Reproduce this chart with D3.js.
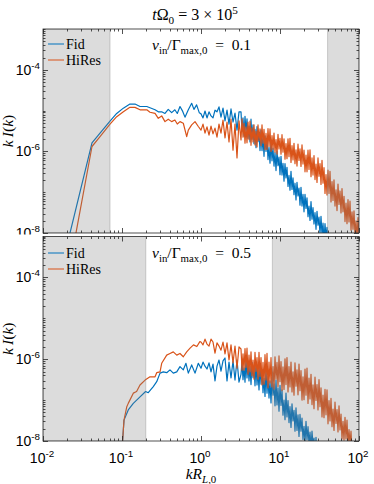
<!DOCTYPE html>
<html>
<head>
<meta charset="utf-8">
<script src="https://cdn.jsdelivr.net/npm/d3@7"></script>
<style>
  body { margin: 0; background: #fff; }
</style>
</head>
<body>
<svg id="chart" width="374" height="484"></svg>
<script>
// ---- data: [k, log10(k I)] ----
// smooth low-k part of each spectrum
let fidTopLow = [[0.019,-8.50],[0.0417,-5.79],[0.0527,-5.55],[0.0705,-5.26],[0.0857,-5.07],[0.104,-4.94],
  [0.126,-4.84],[0.146,-4.84],[0.169,-4.90],[0.206,-4.90],[0.226,-4.93],[0.262,-4.98],[0.288,-5.03],
  [0.318,-5.03],[0.350,-5.07],[0.385,-4.97],[0.425,-5.05],[0.467,-4.98],[0.501,-5.07],[0.542,-4.90],
  [0.587,-5.02],[0.627,-5.16],[0.691,-4.98],[0.762,-4.82],[0.814,-4.97],[0.880,-4.86],[0.950,-5.05]];
let hiresTopLow = [[0.019,-9.45],[0.0417,-5.88],[0.0527,-5.64],[0.0705,-5.33],[0.0857,-5.15],[0.104,-5.03],
  [0.126,-4.92],[0.146,-4.92],[0.169,-4.98],[0.206,-4.98],[0.226,-5.04],[0.262,-5.07],[0.288,-5.19],
  [0.318,-5.13],[0.350,-5.27],[0.385,-5.21],[0.425,-5.27],[0.467,-5.23],[0.501,-5.33],[0.542,-5.27],
  [0.597,-5.31],[0.659,-5.64],[0.691,-5.48],[0.762,-5.35],[0.840,-5.27],[0.925,-5.39]];
let fidBotLow = [[0.0985,-8.40],[0.106,-7.49],[0.120,-7.24],[0.139,-7.08],[0.169,-6.92],[0.199,-6.79],
  [0.215,-6.82],[0.249,-6.67],[0.275,-6.55],[0.303,-6.34],[0.333,-6.31],[0.368,-6.33],[0.405,-6.26],
  [0.446,-6.34],[0.493,-6.31],[0.542,-6.18],[0.597,-6.26],[0.645,-6.10],[0.691,-6.34],[0.762,-6.14],
  [0.840,-6.34],[0.925,-6.10]];
let hiresBotLow = [[0.0985,-8.40],[0.106,-7.49],[0.115,-7.16],[0.120,-7.08],[0.139,-6.83],[0.153,-6.79],
  [0.169,-6.63],[0.196,-6.51],[0.226,-6.43],[0.262,-6.43],[0.275,-6.33],[0.303,-6.31],[0.318,-6.10],
  [0.368,-5.90],[0.405,-5.86],[0.446,-5.82],[0.493,-5.90],[0.542,-5.86],[0.597,-5.94],[0.659,-5.82],
  [0.727,-5.73],[0.803,-5.65],[0.886,-5.69],[0.967,-5.57]];

// noisy high-k part, sampled on this k grid
let kHigh = [1.000,1.060,1.124,1.191,1.263,1.339,1.419,1.504,1.594,1.690,
  1.791,1.899,2.013,2.134,2.262,2.398,2.542,2.694,2.856,3.027,
  3.209,3.304,3.402,3.503,3.606,3.713,3.822,3.935,4.052,4.172,
  4.295,4.422,4.553,4.687,4.826,4.969,5.116,5.267,5.423,5.583,
  5.748,5.918,6.093,6.274,6.459,6.650,6.847,7.049,7.258,7.472,
  7.693,7.921,8.155,8.396,8.645,8.900,9.163,9.434,9.713,10.00,
  10.30,10.60,10.91,11.24,11.57,11.91,12.26,12.63,13.00,13.38,
  13.78,14.19,14.61,15.04,15.48,15.94,16.41,16.90,17.40,17.91,
  18.44,18.99,19.55,20.13,20.73,21.34,21.97,22.62,23.29,23.98,
  24.69,25.42,26.17,26.94,27.74,28.56,29.41,30.27,31.17,32.09,
  33.04,34.02,35.03,36.06,37.13,38.23,39.36,40.52,41.72,42.95,
  44.22,45.53,46.88,48.26,49.69,51.16,52.67,54.23,55.84,57.49,
  59.19,60.93,62.74,64.59,66.51,68.47,70.50,72.58,74.73,76.93,
  79.21,81.55,83.97,86.45,89.01,91.64,94.35,97.14,100.0];
let fidTopHigh = [-5.08,-5.18,-5.01,-5.18,-5.03,-5.13,-5.18,-4.99,-5.03,-4.91,
  -5.16,-4.94,-5.25,-4.99,-5.33,-4.96,-5.28,-5.06,-5.48,-5.03,
  -5.03,-5.51,-5.18,-5.63,-5.14,-5.51,-5.20,-5.68,-5.38,-5.77,
  -5.21,-5.70,-5.35,-5.81,-5.46,-5.91,-5.39,-5.76,-5.53,-5.98,
  -5.47,-5.98,-5.64,-6.12,-5.62,-6.00,-5.70,-6.20,-5.90,-6.29,
  -5.77,-6.23,-5.92,-6.36,-6.03,-6.47,-5.99,-6.35,-6.14,-6.57,
  -6.12,-6.58,-6.29,-6.73,-6.30,-6.65,-6.39,-6.86,-6.59,-6.95,
  -6.49,-6.93,-6.65,-7.06,-6.78,-7.19,-6.76,-7.09,-6.90,-7.32,
  -6.88,-7.34,-7.05,-7.48,-7.05,-7.40,-7.14,-7.60,-7.34,-7.69,
  -7.23,-7.66,-7.38,-7.78,-7.50,-7.91,-7.47,-7.81,-7.61,-8.03,
  -7.59,-8.05,-7.76,-8.20,-7.77,-8.12,-7.86,-8.33,-8.06,-8.42];
let hiresTopHigh = [-5.48,-5.33,-5.55,-5.40,-5.60,-5.38,-5.57,-5.43,-5.65,-5.33,
  -5.55,-5.23,-5.67,-5.28,-5.77,-5.21,-5.97,-5.33,-6.16,-5.25,
  -5.72,-5.20,-5.65,-5.31,-5.80,-5.40,-5.79,-5.28,-5.71,-5.26,
  -5.85,-5.42,-5.77,-5.35,-5.84,-5.50,-5.89,-5.35,-5.73,-5.45,
  -5.86,-5.35,-5.80,-5.46,-5.96,-5.56,-5.95,-5.44,-5.88,-5.45,
  -6.00,-5.61,-5.95,-5.55,-6.02,-5.71,-6.07,-5.58,-5.94,-5.68,
  -6.07,-5.59,-6.02,-5.69,-6.19,-5.81,-6.18,-5.69,-6.13,-5.68,
  -6.27,-5.86,-6.21,-5.80,-6.30,-5.96,-6.36,-5.82,-6.22,-5.94,
  -6.37,-5.84,-6.31,-5.97,-6.50,-6.09,-6.50,-5.97,-6.44,-5.96,
  -6.62,-6.16,-6.58,-6.10,-6.69,-6.31,-6.76,-6.16,-6.61,-6.30,
  -6.81,-6.22,-6.78,-6.40,-7.03,-6.57,-7.07,-6.46,-7.03,-6.49,
  -7.24,-6.74,-7.20,-6.70,-7.34,-6.94,-7.45,-6.80,-7.30,-6.97,
  -7.51,-6.91,-7.48,-7.10,-7.72,-7.27,-7.77,-7.18,-7.73,-7.22,
  -7.93,-7.48,-7.91,-7.46,-8.05,-7.70,-8.15,-7.62,-8.05];
let fidBotHigh = [-6.22,-6.07,-6.17,-6.24,-6.09,-6.31,-6.12,-6.53,-6.17,-6.02,
  -6.29,-6.04,-5.97,-6.53,-6.07,-6.46,-6.04,-6.51,-6.02,-6.56,
  -6.37,-6.07,-6.50,-6.21,-6.56,-6.02,-6.46,-6.11,-6.53,-6.17,
  -6.62,-6.08,-6.45,-6.20,-6.65,-6.10,-6.63,-6.26,-6.75,-6.17,
  -6.61,-6.25,-6.82,-6.46,-6.91,-6.27,-6.83,-6.42,-6.95,-6.53,
  -7.07,-6.44,-6.88,-6.60,-7.14,-6.51,-7.12,-6.70,-7.27,-6.64,
  -7.13,-6.75,-7.37,-7.00,-7.48,-6.83,-7.41,-7.01,-7.55,-7.16,
  -7.67,-7.09,-7.51,-7.25,-7.76,-7.19,-7.74,-7.36,-7.89,-7.35,
  -7.76,-7.44,-7.96,-7.64,-8.03,-7.52,-7.97,-7.65,-8.08,-7.78,
  -8.18,-7.76,-8.10,-7.93,-8.33,-7.91,-8.36,-8.09,-8.51];
let hiresBotHigh = [-5.58,-5.65,-5.51,-5.63,-5.68,-5.51,-5.58,-5.85,-5.60,-5.68,
  -5.78,-5.58,-5.87,-5.60,-6.02,-5.65,-6.09,-5.68,-6.22,-5.70,
  -5.75,-6.27,-5.87,-6.27,-5.74,-6.20,-5.73,-6.37,-5.90,-6.31,
  -5.82,-6.41,-6.02,-6.49,-5.83,-6.30,-5.96,-6.49,-5.83,-6.42,
  -5.96,-6.63,-6.08,-6.61,-5.89,-6.51,-5.86,-6.70,-6.07,-6.58,
  -5.96,-6.68,-6.18,-6.73,-5.94,-6.49,-6.08,-6.67,-5.92,-6.55,
  -6.06,-6.77,-6.19,-6.74,-5.99,-6.62,-5.96,-6.80,-6.18,-6.68,
  -6.07,-6.80,-6.31,-6.88,-6.09,-6.66,-6.26,-6.87,-6.12,-6.77,
  -6.28,-7.00,-6.43,-6.99,-6.24,-6.88,-6.22,-7.08,-6.46,-6.97,
  -6.37,-7.11,-6.63,-7.21,-6.44,-7.01,-6.62,-7.24,-6.50,-7.16,
  -6.70,-7.41,-6.88,-7.43,-6.74,-7.36,-6.75,-7.58,-7.01,-7.51,
  -6.96,-7.65,-7.22,-7.74,-7.05,-7.57,-7.23,-7.78,-7.14,-7.73,
  -7.34,-7.95,-7.52,-7.98,-7.42,-7.95,-7.49,-8.11,-7.72,-8.08,
  -7.76,-8.25,-8.01,-8.45];

// grey bands: unresolved k ranges
let shadeTop = [0.0705, 40];
let shadeBot = [0.2, 8];
let nuValues = ['0.1', '0.5'];
let seriesNames = ['Fid', 'HiRes'];
let xTicks = [0.01, 0.1, 1, 10, 100];
let yTickExp = [-8, -6, -4];

// ---- layout ----
let color = ['#0072BD', '#D95319'],
    serif = '"Times New Roman", "Liberation Serif", "DejaVu Serif", serif',
    sans = '"Liberation Sans", Arial, sans-serif',
    svg = d3.select('#chart'),
    x = d3.scaleLog().domain([0.01, 100]).range([43, 359]);

let join = (low, high) => low.concat(high.map((v, i) => [kHigh[i], v]));

let panels = [
  {top: 29, bottom: 233, fid: join(fidTopLow, fidTopHigh), hires: join(hiresTopLow, hiresTopHigh),
   shade: shadeTop, nu: nuValues[0], legendY: [44, 60]},
  {top: 236.5, bottom: 441, fid: join(fidBotLow, fidBotHigh), hires: join(hiresBotLow, hiresBotHigh),
   shade: shadeBot, nu: nuValues[1], legendY: [253, 269]}
];

// rich text helper: parts = [text, style], style: i (italic), sub, sup
let rich = (sel, parts, base) => {
  let shift = 0;
  parts.forEach(p => {
    let st = p[1] || {},
        s = st.sub ? 4 : st.sup ? -6 : 0,
        t = sel.append('tspan').text(p[0]);
    if (s !== shift) { t.attr('dy', s - shift); shift = s; }
    if (st.i) t.attr('font-style', 'italic');
    t.attr('font-size', (st.sub || st.sup) ? base * 0.7 : base);
  });
};

panels.forEach((p, pi) => {
  let y = d3.scaleLog().domain([1e-8, 1e-3]).range([p.bottom, p.top]),
      g = svg.append('g'),
      clipId = 'clip' + pi;

  g.append('clipPath').attr('id', clipId)
    .append('rect')
    .attr('x', x.range()[0]).attr('y', p.top)
    .attr('width', x.range()[1] - x.range()[0]).attr('height', p.bottom - p.top);

  let line = d3.line()
    .x(d => x(d[0]))
    .y(d => y(Math.pow(10, d[1])));

  let plot = g.append('g').attr('clip-path', 'url(#' + clipId + ')');
  [p.fid, p.hires].forEach((data, i) => {
    plot.append('path')
      .datum(data)
      .attr('d', line)
      .attr('fill', 'none')
      .attr('stroke', color[i])
      .attr('stroke-width', 1.2)
      .attr('stroke-linejoin', 'round');
  });

  // grey shading drawn over the curves (semi transparent)
  [[0.01, p.shade[0]], [p.shade[1], 100]].forEach(r => {
    plot.append('rect')
      .attr('x', x(r[0])).attr('y', p.top)
      .attr('width', x(r[1]) - x(r[0])).attr('height', p.bottom - p.top)
      .attr('fill', '#7f7f7f').attr('fill-opacity', 0.27)
      .attr('stroke', '#7f7f7f').attr('stroke-opacity', 0.35).attr('stroke-width', 1);
  });

  // ticks, inward on all four sides
  let ax = g.append('g').attr('stroke', '#262626').attr('stroke-width', 0.8);
  x.ticks().forEach(t => {
    let major = Math.abs(Math.log10(t) - Math.round(Math.log10(t))) < 1e-6,
        len = major ? 5 : 2.5,
        xp = Math.round(x(t)) + 0.5;
    ax.append('line').attr('x1', xp).attr('x2', xp).attr('y1', p.bottom).attr('y2', p.bottom - len);
    ax.append('line').attr('x1', xp).attr('x2', xp).attr('y1', p.top).attr('y2', p.top + len);
  });
  y.ticks().forEach(t => {
    let e = Math.log10(t),
        major = yTickExp.some(v => Math.abs(v - e) < 1e-6),
        len = major ? 5 : 2.5,
        yp = Math.round(y(t)) + 0.5;
    ax.append('line').attr('x1', x.range()[0]).attr('x2', x.range()[0] + len).attr('y1', yp).attr('y2', yp);
    ax.append('line').attr('x1', x.range()[1]).attr('x2', x.range()[1] - len).attr('y1', yp).attr('y2', yp);
  });
  ax.append('rect')
    .attr('x', x.range()[0]).attr('y', p.top)
    .attr('width', x.range()[1] - x.range()[0]).attr('height', p.bottom - p.top)
    .attr('fill', 'none');

  // y tick labels (top panel's lowest label is cut by the lower axes)
  let yl = g.append('g');
  if (pi === 0) {
    g.append('clipPath').attr('id', 'lblclip')
      .append('rect').attr('x', 0).attr('y', 0).attr('width', 43).attr('height', 234.5);
    yl.attr('clip-path', 'url(#lblclip)');
  }
  yTickExp.forEach(e => {
    let t = yl.append('text').attr('font-family', sans).attr('fill', '#000')
      .attr('x', 40).attr('y', y(Math.pow(10, e)) + 5)
      .attr('text-anchor', 'end');
    rich(t, [['10'], [String(e), {sup: true}]], 14);
  });

  // legend
  seriesNames.forEach((name, i) => {
    let ly = p.legendY[i];
    g.append('line').attr('x1', 48).attr('x2', 64).attr('y1', ly).attr('y2', ly)
      .attr('stroke', color[i]).attr('stroke-width', 1);
    g.append('text').attr('font-family', serif).attr('x', 66).attr('y', ly + 4.5)
      .attr('font-size', 14).text(name);
  });

  // nu_in / Gamma annotation
  let ann = g.append('text').attr('font-family', serif).attr('x', 152).attr('y', p.top + 21)
    .style('white-space', 'pre');
  rich(ann, [['ν', {i: true}], ['in', {sub: true}], ['/Γ'], ['max,0', {sub: true}], ['  =  ' + p.nu]], 15.5);

  // y label
  let ylab = g.append('text').attr('font-family', serif)
    .attr('transform', 'translate(13,' + ((p.top + p.bottom) / 2) + ') rotate(-90)')
    .attr('text-anchor', 'middle');
  rich(ylab, [['k', {i: true}], ['\u2009'], ['I', {i: true}], ['('], ['k', {i: true}], [')']], 15.5);

  // x tick labels on the lower panel only
  if (pi === 1) {
    xTicks.forEach(t => {
      let tl = svg.append('text').attr('font-family', sans).attr('fill', '#000')
        .attr('x', x(t) - 1).attr('y', p.bottom + 21.5)
        .attr('text-anchor', 'middle');
      rich(tl, [['10'], [String(Math.round(Math.log10(t))), {sup: true}]], 14);
    });
  }
});

// title and x label
let title = svg.append('text').attr('font-family', serif).attr('x', 195).attr('y', 20).attr('text-anchor', 'middle')
  .style('white-space', 'pre');
rich(title, [['t', {i: true}], ['Ω'], ['0', {sub: true}], [' = 3 × 10'], ['5', {sup: true}]], 16);

let xlab = svg.append('text').attr('font-family', serif).attr('x', 201).attr('y', 479).attr('text-anchor', 'middle');
rich(xlab, [['kR', {i: true}], ['L', {sub: true, i: true}], [',0', {sub: true}]], 15.5);
</script>
</body>
</html>
